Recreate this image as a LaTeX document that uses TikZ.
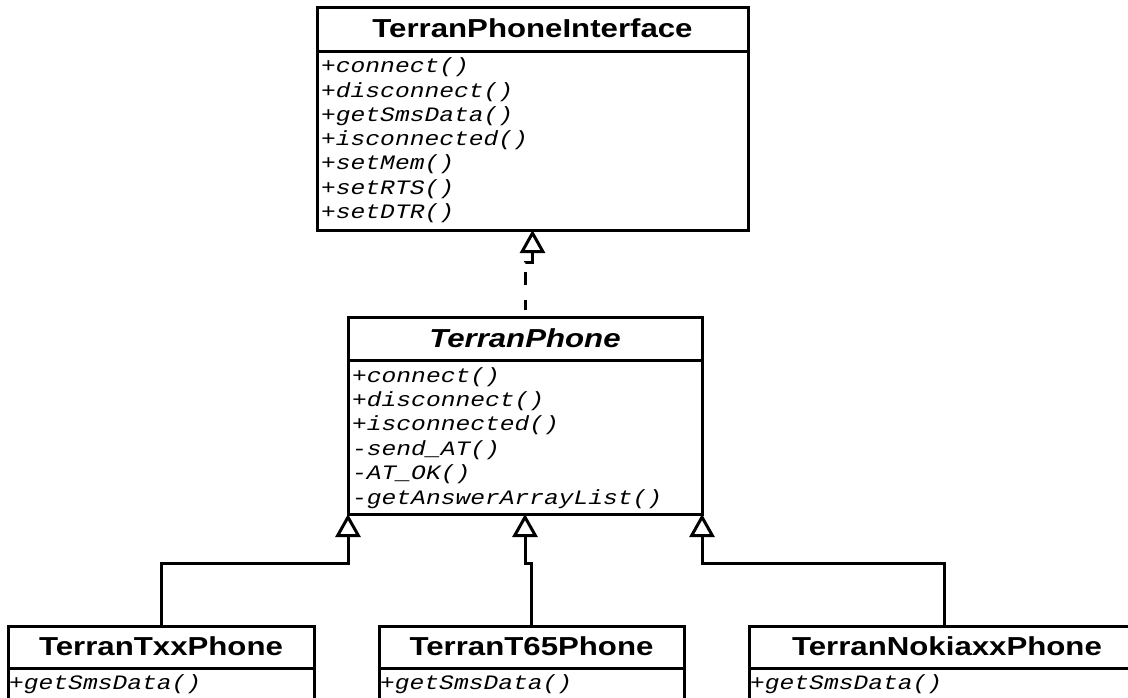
\documentclass[tikz,border=0pt]{standalone}
\usepackage{fontspec}
\usetikzlibrary{arrows.meta}
\newfontfamily\titlefont[FakeStretch=1.2]{Liberation Sans}
\newfontfamily\methodfont[FakeStretch=1.2]{Liberation Mono}
\tikzset{
  x=1pt, y=-1pt,
  classbox/.style={draw, line width=3pt, fill=white, inner sep=0pt, outer sep=0pt},
  classname/.style={anchor=base, inner sep=0pt,
    font=\titlefont\bfseries\fontsize{26}{30}\selectfont},
  abstractname/.style={anchor=base, inner sep=0pt,
    font=\titlefont\bfseries\itshape\fontsize{26}{30}\selectfont},
  method/.style={anchor=base west, inner sep=0pt,
    font=\methodfont\itshape\fontsize{20.5}{24}\selectfont},
  divider/.style={line width=3pt},
  link/.style={line width=3pt},
  generalizes/.style={link, -{Triangle[open, length=23pt, width=25pt, fill=white]}},
}
\begin{document}
\begin{tikzpicture}
\useasboundingbox (0,0) rectangle (1128,698);
\clip (0,0) rectangle (1128,698);
\fill[white] (0,0) rectangle (1128,698);

% interface
\node[classbox, minimum width=431pt, minimum height=222pt] (iface) at (532.5,119) {};
\draw[divider] (iface.west |- 0,52) -- (iface.east |- 0,52);
\node[classname] (iface-name) at (532.5,38) {TerranPhoneInterface};
\foreach \m [count=\i] in {+connect(),+disconnect(),+getSmsData(),+isconnected(),+setMem(),+setRTS(),+setDTR()}
  \node[method] (iface-m\i) at (321,{73+(\i-1)*24.2}) {\m};

% abstract base class
\node[classbox, minimum width=354pt, minimum height=197pt] (phone) at (525,415.5) {};
\draw[divider] (phone.west |- 0,360) -- (phone.east |- 0,360);
\node[abstractname] (phone-name) at (525,347) {TerranPhone};
\foreach \m [count=\i] in {+connect(),+disconnect(),+isconnected(),-send\_AT(),-AT\_OK(),-getAnswerArrayList()}
  \node[method] (phone-m\i) at (352,{382+(\i-1)*24.4}) {\m};

% concrete phones
\node[classbox, minimum width=306pt, minimum height=120pt] (txx) at (161,686) {};
\draw[divider] (txx.west |- 0,668) -- (txx.east |- 0,668);
\node[classname] (txx-name) at (161,655) {TerranTxxPhone};
\node[method] (txx-m1) at (9,689) {+getSmsData()};

\node[classbox, minimum width=305pt, minimum height=120pt] (t65) at (531.5,686) {};
\draw[divider] (t65.west |- 0,668) -- (t65.east |- 0,668);
\node[classname] (t65-name) at (531.5,655) {TerranT65Phone};
\node[method] (t65-m1) at (380,689) {+getSmsData()};

\node[classbox, minimum width=391pt, minimum height=120pt] (nokia) at (944.5,686) {};
\draw[divider] (nokia.west |- 0,668) -- (nokia.east |- 0,668);
\node[classname] (nokia-name) at (947,655) {TerranNokiaxxPhone};
\node[method] (nokia-m1) at (750,689) {+getSmsData()};

% realization of the interface
\draw[generalizes, dash pattern=on 10pt off 15pt on 13pt off 10pt on 30pt off 7pt, dash phase=78pt]
  (phone.north) -- ++(0,-55) -| (iface.south);

% inheritance
\draw[generalizes] (txx.north) |- ([yshift=-49pt]phone.south west) -- (phone.south west);
\draw[generalizes] (t65.north) |- ([yshift=-49pt]phone.south) -- (phone.south);
\draw[generalizes] (nokia.north) |- ([yshift=-49pt]phone.south east) -- (phone.south east);
\end{tikzpicture}
\end{document}
